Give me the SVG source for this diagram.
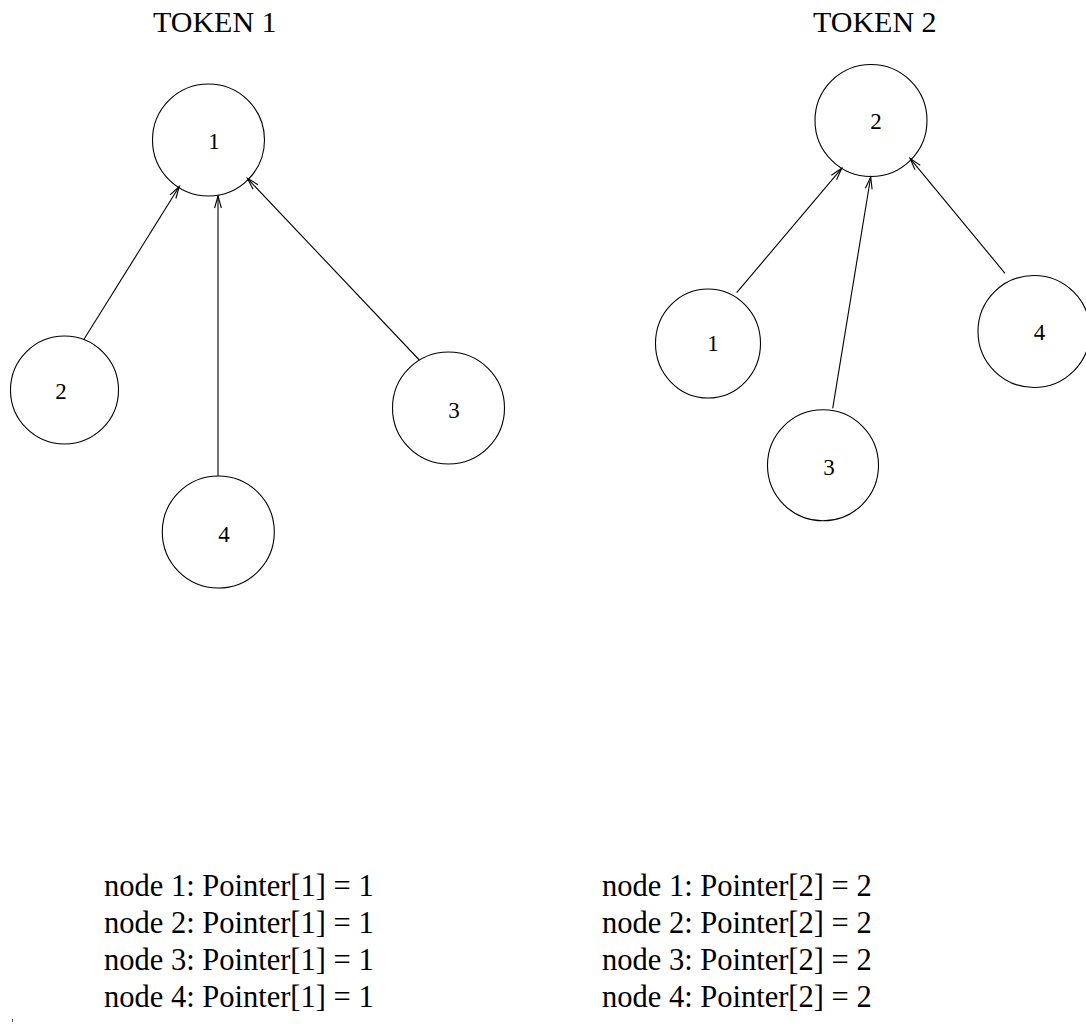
<svg xmlns="http://www.w3.org/2000/svg" width="1086" height="1034" viewBox="0 0 1086 1034">
  <style>
    .node { fill: none; stroke: #000; stroke-width: 1.1; }
    .num { font-family: "Liberation Serif", "Times New Roman", serif; font-size: 23px; fill: #000; text-anchor: middle; }
    .title { font-family: "Liberation Serif", "Times New Roman", serif; font-size: 30px; fill: #000; }
    .row { font-family: "Liberation Serif", "Times New Roman", serif; font-size: 30.5px; fill: #000; }
    .edge { stroke: #000; stroke-width: 1.1; fill: none; marker-end: url(#open); }
  </style>
  <defs>
    <marker id="open" markerUnits="userSpaceOnUse" markerWidth="14" markerHeight="10" refX="12" refY="5" orient="auto" overflow="visible">
      <path d="M0,1.6 L12,5 L0,8.4" fill="none" stroke="#000" stroke-width="1.1"/>
    </marker>
  </defs>
  <rect width="1086" height="1034" fill="#fff"/>

  <!-- titles -->
  <text class="title" x="153" y="32">TOKEN 1</text>
  <text class="title" x="813" y="32">TOKEN 2</text>

  <!-- left tree: every node points to 1 -->
  <g id="t1-n1"><circle class="node" cx="208.5" cy="140" r="56"/><text class="num" x="214" y="149">1</text></g>
  <g id="t1-n2"><circle class="node" cx="64.5" cy="390" r="54"/><text class="num" x="61" y="399">2</text></g>
  <g id="t1-n3"><circle class="node" cx="448.5" cy="408" r="56"/><text class="num" x="454" y="418">3</text></g>
  <g id="t1-n4"><circle class="node" cx="218.3" cy="532" r="56"/><text class="num" x="224" y="542">4</text></g>

  <!-- right tree: every node points to 2 -->
  <g id="t2-n2"><circle class="node" cx="871" cy="120.5" r="56"/><text class="num" x="876" y="129">2</text></g>
  <g id="t2-n1"><ellipse class="node" cx="708" cy="343.5" rx="52.5" ry="54.5"/><text class="num" x="713" y="351">1</text></g>
  <g id="t2-n3"><circle class="node" cx="823" cy="465.3" r="55.5"/><text class="num" x="829" y="475">3</text></g>
  <g id="t2-n4"><circle class="node" cx="1034" cy="331.5" r="56"/><text class="num" x="1039.5" y="340">4</text></g>

  <!-- connectors -->
  <g id="edges">
    <line class="edge" x1="84" y1="339.3" x2="179.3" y2="186.5"/>
    <line class="edge" x1="218" y1="476" x2="218" y2="196"/>
    <line class="edge" x1="419.3" y1="360" x2="247.3" y2="178.3"/>
    <line class="edge" x1="736.7" y1="292.7" x2="841.7" y2="168.3"/>
    <line class="edge" x1="832.7" y1="408.3" x2="870.7" y2="177"/>
    <line class="edge" x1="1005" y1="273.3" x2="910" y2="158.3"/>
  </g>

  <!-- pointer tables -->
  <g id="table1">
    <text class="row" x="104" y="896">node 1: Pointer[1] = 1</text>
    <text class="row" x="104" y="933">node 2: Pointer[1] = 1</text>
    <text class="row" x="104" y="970">node 3: Pointer[1] = 1</text>
    <text class="row" x="104" y="1007">node 4: Pointer[1] = 1</text>
  </g>
  <g id="table2">
    <text class="row" x="602" y="896">node 1: Pointer[2] = 2</text>
    <text class="row" x="602" y="933">node 2: Pointer[2] = 2</text>
    <text class="row" x="602" y="970">node 3: Pointer[2] = 2</text>
    <text class="row" x="602" y="1007">node 4: Pointer[2] = 2</text>
  </g>

  <!-- stray mark, bottom left -->
  <rect x="12" y="1019" width="1" height="3" fill="#555"/>
</svg>
